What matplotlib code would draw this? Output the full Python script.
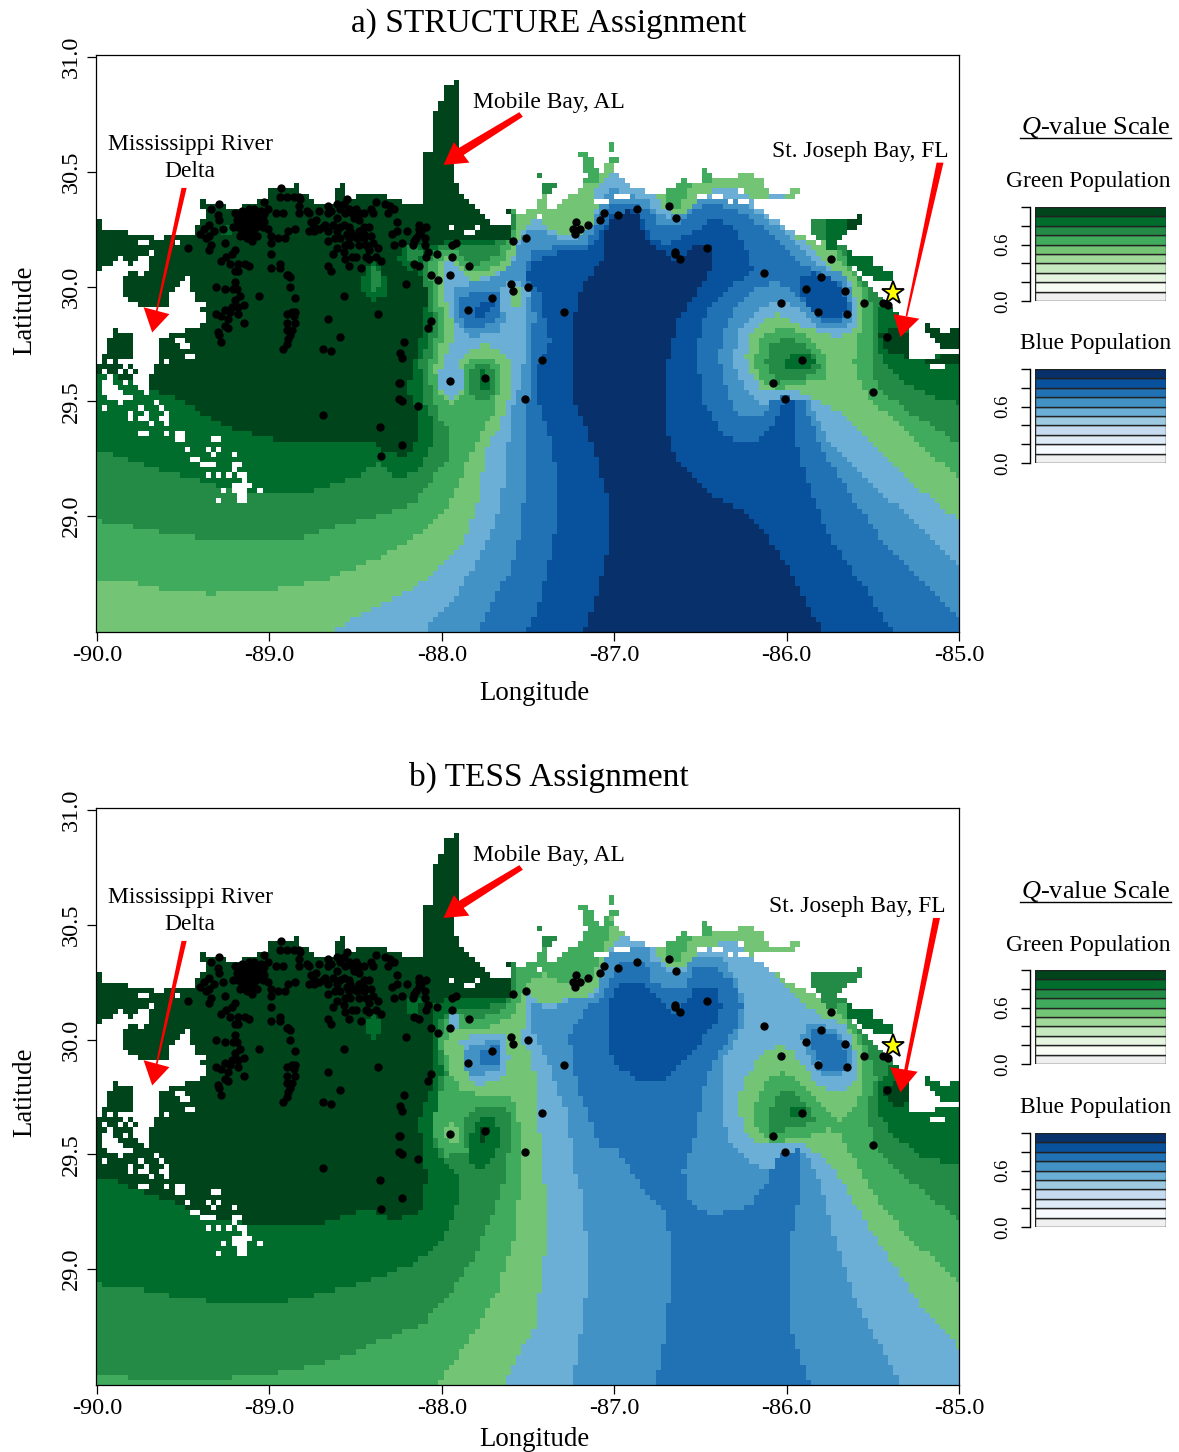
import numpy as np
import matplotlib
matplotlib.use('Agg')
import matplotlib.pyplot as plt
from matplotlib.colors import ListedColormap
from matplotlib.lines import Line2D
from matplotlib.path import Path

plt.rcParams['font.family'] = ['Liberation Serif', 'DejaVu Serif']
plt.rcParams['mathtext.fontset'] = 'custom'
plt.rcParams['mathtext.rm'] = 'Liberation Serif'
plt.rcParams['mathtext.it'] = 'Liberation Serif:italic'

W, H = 1179, 1452

# Q-value classes, dark green through dark blue
class_colors = ['#00441b', '#006d2c', '#238b45', '#41ab5d', '#74c476',
                '#6baed6', '#4292c6', '#2171b5', '#08519c', '#08306b']
G5, G4, G3, G2, G1, B1, B2, B3, B4, B5 = range(10)

legend_edges = [0.0, 0.1, 0.2, 0.3, 0.4, 0.5, 0.6, 0.7, 0.8, 0.9]
green_scale = ['#f0f0f0', '#f7fcf5', '#e5f5e0', '#c7e9c0', '#a1d99b',
               '#74c476', '#41ab5d', '#238b45', '#006d2c', '#00441b']
blue_scale = ['#f0f0f0', '#f7fbff', '#deebf7', '#c6dbef', '#9ecae1',
              '#6baed6', '#4292c6', '#2171b5', '#08519c', '#08306b']

lon_ticks = [-90.0, -89.0, -88.0, -87.0, -86.0, -85.0]
lat_ticks = [29.0, 29.5, 30.0, 30.5, 31.0]
lat_tick_labels = ['29.0', '29.5', '30.0', '30.5', '31.0']

# panel a, class regions as lon/lat outlines
a_g1_west = [(-90.1,28.46),(-88.72,28.46),(-88.49,28.56),(-88.34,28.62),(-88.18,28.68),(-88.03,28.76),(-87.88,28.88),(-87.80,29.04),(-87.74,29.29),(-87.66,29.40),(-87.59,29.55),(-87.60,29.67),(-87.66,29.72),(-87.76,29.75),(-87.85,29.72),(-87.89,29.67),(-87.87,29.57),(-87.89,29.53),(-87.95,29.51),(-88.01,29.55),(-88.01,29.64),(-87.95,29.75),(-87.92,29.81),(-87.97,29.93),(-87.99,29.98),(-87.99,30.04),(-88.00,30.11),(-87.94,30.13),(-87.88,30.06),(-87.83,30.03),(-87.72,30.04),(-87.60,30.10),(-87.56,30.19),(-87.52,30.26),(-87.45,30.29),(-87.37,30.25),(-87.30,30.22),(-87.17,30.24),(-87.13,30.28),(-87.10,30.36),(-87.12,30.42),(-87.04,30.48),(-86.98,30.49),(-86.91,30.45),(-86.88,30.59),(-86.88,31.1),(-90.1,31.1)]
a_g1_north = [(-86.78,30.44),(-86.72,30.34),(-86.62,30.31),(-86.54,30.35),(-86.47,30.39),(-86.43,30.42),(-86.30,30.42),(-86.22,30.39),(-86.10,30.38),(-85.98,30.51),(-86.79,30.51)]
a_g1_east = [(-86.0,31.1),(-86.0,30.30),(-85.96,30.23),(-85.77,30.10),(-85.63,30.03),(-85.60,29.93),(-85.59,29.82),(-85.71,29.78),(-85.85,29.81),(-85.96,29.85),(-86.06,29.88),(-86.15,29.85),(-86.22,29.78),(-86.24,29.69),(-86.20,29.62),(-86.13,29.54),(-86.03,29.54),(-85.92,29.54),(-85.81,29.50),(-85.69,29.45),(-85.55,29.34),(-85.30,29.16),(-84.97,28.96),(-84.9,28.96),(-84.9,31.1)]
a_g2_west = [(-90.1,28.73),(-89.77,28.71),(-89.61,28.68),(-89.34,28.66),(-89.13,28.67),(-88.88,28.69),(-88.65,28.73),(-88.38,28.81),(-88.11,28.93),(-87.95,29.06),(-87.87,29.20),(-87.79,29.34),(-87.69,29.46),(-87.65,29.64),(-87.72,29.69),(-87.82,29.69),(-87.88,29.64),(-87.87,29.54),(-87.94,29.49),(-88.01,29.52),(-88.04,29.64),(-88.01,29.74),(-87.98,29.82),(-88.02,29.95),(-88.03,30.03),(-88.02,30.10),(-87.97,30.14),(-87.91,30.12),(-87.85,30.06),(-87.76,30.06),(-87.65,30.11),(-87.59,30.19),(-87.56,30.25),(-87.57,30.36),(-87.57,31.1),(-90.1,31.1)]
a_g2_ring = [(-86.18,29.69),(-86.14,29.78),(-86.04,29.82),(-85.94,29.81),(-85.85,29.76),(-85.76,29.68),(-85.76,29.61),(-85.85,29.59),(-86.01,29.56),(-86.07,29.56),(-86.14,29.59),(-86.18,29.64)]
a_g2_east = [(-85.81,31.1),(-85.81,30.22),(-85.75,30.17),(-85.62,30.06),(-85.56,29.97),(-85.55,29.87),(-85.58,29.78),(-85.61,29.67),(-85.58,29.59),(-85.51,29.51),(-85.26,29.33),(-84.97,29.15),(-84.9,29.15),(-84.9,31.1)]
a_g3_west = [(-90.1,28.99),(-89.91,28.97),(-89.62,28.93),(-89.34,28.90),(-89.13,28.89),(-88.84,28.90),(-88.65,28.95),(-88.38,29.0),(-88.17,29.05),(-88.09,29.13),(-87.97,29.24),(-87.97,29.39),(-88.01,29.43),(-88.05,29.52),(-88.08,29.64),(-88.05,29.74),(-88.01,29.81),(-88.05,29.95),(-88.07,30.04),(-88.08,30.10),(-87.99,30.16),(-87.89,30.15),(-87.84,30.09),(-87.76,30.11),(-87.66,30.15),(-87.62,30.22),(-87.57,30.26),(-87.60,30.38),(-87.60,31.1),(-90.1,31.1)]
a_g3_east = [(-85.72,31.1),(-85.72,30.20),(-85.64,30.09),(-85.56,30.02),(-85.50,29.91),(-85.49,29.81),(-85.51,29.72),(-85.50,29.61),(-85.43,29.53),(-85.34,29.48),(-84.97,29.30),(-84.9,29.30),(-84.9,31.1)]
a_g3_blob = [(-86.12,29.68),(-86.09,29.74),(-85.99,29.78),(-85.89,29.75),(-85.82,29.69),(-85.81,29.64),(-85.91,29.60),(-86.07,29.58)]
a_g3_west_blob = [(-87.76,29.67),(-87.84,29.63),(-87.83,29.53),(-87.75,29.49),(-87.68,29.55),(-87.68,29.63)]
a_g4_west = [(-90.1,29.30),(-89.92,29.27),(-89.72,29.22),(-89.48,29.17),(-89.23,29.12),(-89.00,29.10),(-88.76,29.11),(-88.49,29.17),(-88.37,29.23),(-88.29,29.18),(-88.21,29.17),(-88.13,29.21),(-88.05,29.32),(-88.06,29.42),(-88.11,29.52),(-88.13,29.67),(-88.08,29.75),(-88.05,29.84),(-88.09,29.97),(-88.10,30.04),(-88.11,30.10),(-88.01,30.18),(-87.85,30.17),(-87.72,30.17),(-87.65,30.25),(-87.60,30.36),(-87.60,31.1),(-90.1,31.1)]
a_g4_east = [(-85.41,30.0),(-85.46,29.90),(-85.46,29.81),(-85.46,29.71),(-85.38,29.62),(-85.25,29.55),(-85.07,29.50),(-84.97,29.49),(-84.9,29.49),(-84.9,30.1),(-85.3,30.1)]
a_g4_blob = [(-86.02,29.68),(-85.96,29.71),(-85.86,29.71),(-85.82,29.67),(-85.88,29.64),(-85.99,29.64)]
a_g4_west_blob = [(-87.76,29.65),(-87.78,29.58),(-87.75,29.53),(-87.72,29.58)]
a_g5_west = [(-90.1,29.645),(-89.94,29.62),(-89.69,29.56),(-89.46,29.48),(-89.34,29.43),(-89.21,29.38),(-89.00,29.34),(-88.88,29.32),(-88.63,29.32),(-88.38,29.32),(-88.34,29.28),(-88.21,29.26),(-88.16,29.29),(-88.14,29.45),(-88.20,29.55),(-88.16,29.64),(-88.15,29.75),(-88.10,29.82),(-88.09,30.00),(-88.13,30.06),(-88.17,30.15),(-88.07,30.17),(-87.97,30.20),(-87.60,30.21),(-87.59,30.36),(-87.59,31.1),(-90.1,31.1)]
a_g5_east = [(-85.46,29.80),(-85.33,29.83),(-85.28,29.77),(-85.30,29.69),(-85.39,29.71),(-85.45,29.75)]
a_b2 = [(-88.14,28.46),(-88.03,28.56),(-87.91,28.66),(-87.80,28.80),(-87.69,28.97),(-87.64,29.14),(-87.62,29.29),(-87.59,29.47),(-87.53,29.59),(-87.52,29.74),(-87.51,29.88),(-87.49,29.98),(-87.55,30.02),(-87.65,30.01),(-87.66,29.94),(-87.63,29.85),(-87.68,29.80),(-87.82,29.78),(-87.92,29.85),(-87.94,29.95),(-87.91,30.00),(-87.80,30.02),(-87.68,30.04),(-87.59,30.10),(-87.56,30.17),(-87.52,30.24),(-87.44,30.26),(-87.36,30.22),(-87.27,30.19),(-87.18,30.22),(-87.13,30.28),(-87.10,30.33),(-87.08,30.39),(-87.01,30.43),(-86.93,30.41),(-86.81,30.38),(-86.75,30.32),(-86.68,30.30),(-86.58,30.32),(-86.52,30.37),(-86.39,30.39),(-86.26,30.37),(-86.13,30.30),(-86.01,30.24),(-85.92,30.17),(-85.80,30.09),(-85.68,30.06),(-85.62,29.98),(-85.61,29.87),(-85.68,29.81),(-85.80,29.82),(-85.89,29.87),(-85.95,29.91),(-86.05,29.94),(-86.15,29.91),(-86.26,29.83),(-86.31,29.69),(-86.28,29.61),(-86.18,29.50),(-86.06,29.46),(-86.02,29.51),(-85.95,29.51),(-85.87,29.50),(-85.76,29.34),(-85.53,29.16),(-85.26,28.97),(-84.97,28.76),(-84.9,28.46)]
a_b3 = [(-87.81,28.46),(-87.72,28.62),(-87.59,28.78),(-87.53,29.00),(-87.51,29.21),(-87.52,29.39),(-87.49,29.52),(-87.48,29.72),(-87.46,29.88),(-87.51,30.03),(-87.51,30.10),(-87.47,30.15),(-87.35,30.17),(-87.26,30.18),(-87.16,30.19),(-87.12,30.25),(-87.08,30.32),(-87.01,30.37),(-86.89,30.37),(-86.80,30.33),(-86.75,30.28),(-86.69,30.26),(-86.60,30.28),(-86.52,30.34),(-86.42,30.36),(-86.29,30.33),(-86.16,30.27),(-86.05,30.19),(-85.94,30.11),(-85.82,30.07),(-85.69,30.01),(-85.64,29.96),(-85.63,29.89),(-85.69,29.85),(-85.80,29.85),(-85.89,29.92),(-85.95,29.98),(-86.05,30.02),(-86.19,30.00),(-86.32,29.88),(-86.38,29.78),(-86.39,29.67),(-86.35,29.56),(-86.30,29.45),(-86.21,29.44),(-86.13,29.45),(-86.07,29.51),(-86.02,29.52),(-85.95,29.51),(-85.91,29.51),(-85.78,29.27),(-85.61,29.07),(-85.43,28.88),(-85.21,28.72),(-84.97,28.52),(-84.9,28.46)]
a_b3_west = [(-87.89,29.95),(-87.79,29.98),(-87.68,29.98),(-87.65,29.94),(-87.68,29.86),(-87.78,29.82),(-87.87,29.83),(-87.89,29.89)]
a_b4 = [(-87.52,28.46),(-87.45,28.60),(-87.38,28.78),(-87.34,28.93),(-87.34,29.21),(-87.38,29.36),(-87.45,29.51),(-87.46,29.62),(-87.37,29.75),(-87.40,29.85),(-87.43,29.98),(-87.51,30.04),(-87.47,30.11),(-87.30,30.15),(-87.13,30.17),(-87.07,30.26),(-87.01,30.31),(-86.89,30.33),(-86.81,30.26),(-86.78,30.20),(-86.69,30.18),(-86.60,30.22),(-86.50,30.26),(-86.42,30.30),(-86.32,30.27),(-86.24,30.18),(-86.20,30.08),(-86.25,30.04),(-86.37,29.97),(-86.48,29.87),(-86.51,29.75),(-86.51,29.64),(-86.49,29.51),(-86.44,29.45),(-86.39,29.37),(-86.29,29.32),(-86.14,29.34),(-86.06,29.43),(-86.01,29.51),(-85.96,29.51),(-85.93,29.27),(-85.85,29.08),(-85.72,28.87),(-85.55,28.69),(-85.35,28.46)]
a_b4_lobe = [(-85.84,30.06),(-85.72,30.03),(-85.66,29.96),(-85.65,29.89),(-85.72,29.86),(-85.84,29.89),(-85.92,29.96),(-85.92,30.03)]
a_b4_west = [(-87.82,29.91),(-87.74,29.94),(-87.69,29.92),(-87.72,29.88),(-87.80,29.87)]
a_b5 = [(-87.19,28.46),(-87.13,28.59),(-87.08,28.73),(-87.04,28.85),(-87.04,29.08),(-87.08,29.19),(-87.13,29.32),(-87.19,29.43),(-87.24,29.51),(-87.24,29.67),(-87.22,29.95),(-87.14,30.04),(-87.07,30.13),(-87.04,30.28),(-86.93,30.33),(-86.84,30.32),(-86.85,30.28),(-86.79,30.19),(-86.64,30.11),(-86.58,30.15),(-86.54,30.18),(-86.43,30.19),(-86.42,30.10),(-86.54,29.95),(-86.62,29.87),(-86.69,29.67),(-86.71,29.52),(-86.68,29.32),(-86.63,29.23),(-86.54,29.17),(-86.42,29.09),(-86.29,29.04),(-86.18,28.98),(-86.10,28.90),(-86.01,28.80),(-85.93,28.68),(-85.76,28.46)]
a_g1_tip = [(-87.61,29.99),(-87.54,29.99),(-87.54,29.91),(-87.60,29.91)]
a_g2_vee = [(-86.72,30.44),(-86.69,30.34),(-86.63,30.33),(-86.58,30.40),(-86.56,30.44)]

# panel b, same idea
b_g1_west = [(-90.1,28.46),(-87.66,28.46),(-87.55,28.63),(-87.45,28.76),(-87.44,28.88),(-87.41,29.00),(-87.39,29.25),(-87.41,29.42),(-87.43,29.50),(-87.44,29.68),(-87.46,29.84),(-87.49,29.95),(-87.53,29.98),(-87.52,30.12),(-87.50,30.20),(-87.41,30.15),(-87.33,30.16),(-87.27,30.19),(-87.16,30.19),(-87.10,30.23),(-87.08,30.30),(-87.04,30.37),(-86.98,30.43),(-86.93,30.45),(-86.89,30.43),(-86.85,30.59),(-86.85,31.1),(-90.1,31.1)]
b_g1_north = [(-86.79,30.42),(-86.72,30.33),(-86.63,30.31),(-86.56,30.33),(-86.50,30.38),(-86.40,30.42),(-86.29,30.42),(-86.17,30.35),(-86.21,30.51),(-86.79,30.51)]
b_g1_east = [(-86.21,31.1),(-86.21,30.51),(-86.17,30.35),(-86.03,30.25),(-85.91,30.16),(-85.80,30.10),(-85.66,30.07),(-85.60,29.95),(-85.58,29.84),(-85.66,29.77),(-85.80,29.79),(-85.89,29.87),(-85.97,29.95),(-86.05,29.98),(-86.15,29.94),(-86.25,29.82),(-86.28,29.71),(-86.25,29.62),(-86.18,29.55),(-86.05,29.55),(-85.95,29.56),(-85.88,29.53),(-85.75,29.46),(-85.64,29.33),(-85.45,29.10),(-85.26,28.88),(-84.97,28.63),(-84.9,28.63),(-84.9,31.1)]
b_g1_spot = [(-88.01,29.59),(-87.94,29.65),(-87.88,29.57),(-87.94,29.54)]
b_g2_west = [(-90.1,28.46),(-88.06,28.46),(-87.88,28.65),(-87.77,28.78),(-87.67,28.91),(-87.63,29.03),(-87.56,29.18),(-87.55,29.43),(-87.55,29.52),(-87.56,29.74),(-87.76,29.75),(-87.89,29.78),(-87.95,29.85),(-87.98,29.94),(-87.98,30.00),(-87.94,30.07),(-87.85,30.04),(-87.70,30.06),(-87.59,30.10),(-87.55,30.17),(-87.50,30.25),(-87.41,30.29),(-87.33,30.26),(-87.26,30.24),(-87.17,30.24),(-87.10,30.31),(-87.05,30.42),(-87.01,30.51),(-87.03,30.56),(-87.0,30.7),(-87.0,31.1),(-90.1,31.1)]
b_g2_east = [(-85.80,31.1),(-85.80,30.29),(-85.74,30.16),(-85.62,30.04),(-85.56,29.95),(-85.56,29.84),(-85.57,29.75),(-85.68,29.64),(-85.75,29.69),(-85.87,29.77),(-85.97,29.84),(-86.03,29.86),(-86.13,29.81),(-86.19,29.71),(-86.18,29.62),(-86.11,29.56),(-86.03,29.56),(-85.91,29.57),(-85.74,29.61),(-85.70,29.59),(-85.64,29.52),(-85.51,29.34),(-85.30,29.14),(-84.97,28.93),(-84.9,28.93),(-84.9,31.1)]
b_g3_west = [(-90.1,28.54),(-89.46,28.51),(-89.01,28.54),(-88.69,28.59),(-88.43,28.66),(-88.24,28.73),(-88.11,28.76),(-87.91,28.94),(-87.80,29.07),(-87.73,29.20),(-87.67,29.30),(-87.62,29.44),(-87.60,29.68),(-87.65,29.71),(-87.75,29.71),(-87.85,29.68),(-87.88,29.59),(-87.85,29.51),(-87.98,29.49),(-88.03,29.55),(-88.05,29.68),(-88.01,29.77),(-87.97,29.85),(-88.01,29.98),(-88.00,30.05),(-87.96,30.12),(-87.89,30.11),(-87.84,30.08),(-87.70,30.11),(-87.60,30.16),(-87.56,30.25),(-87.59,30.36),(-87.59,31.1),(-90.1,31.1)]
b_g3_east = [(-85.69,31.1),(-85.69,30.20),(-85.56,30.01),(-85.48,29.82),(-85.52,29.75),(-85.53,29.68),(-85.49,29.52),(-85.26,29.37),(-84.97,29.20),(-84.9,29.20),(-84.9,31.1)]
b_g3_blob = [(-86.10,29.66),(-86.07,29.75),(-85.99,29.78),(-85.92,29.75),(-85.85,29.69),(-85.84,29.64),(-85.95,29.62),(-86.09,29.58)]
b_g4_west = [(-90.1,28.94),(-89.79,28.92),(-89.68,28.90),(-89.52,28.88),(-89.33,28.86),(-88.90,28.86),(-88.66,28.90),(-88.38,28.96),(-88.18,29.02),(-88.03,29.10),(-87.95,29.20),(-87.89,29.33),(-87.91,29.40),(-87.99,29.47),(-88.04,29.53),(-88.05,29.64),(-88.02,29.75),(-88.00,29.88),(-88.03,29.98),(-88.03,30.05),(-87.97,30.12),(-87.88,30.13),(-87.76,30.14),(-87.63,30.16),(-87.59,30.24),(-87.59,30.36),(-87.59,31.1),(-90.1,31.1)]
b_g4_east = [(-85.37,29.90),(-85.46,29.82),(-85.48,29.75),(-85.47,29.68),(-85.37,29.58),(-85.21,29.49),(-84.97,29.45),(-84.9,29.45),(-84.9,30.2),(-85.2,30.2)]
b_g4_west_blob = [(-87.85,29.53),(-87.82,29.62),(-87.76,29.66),(-87.69,29.65),(-87.66,29.57),(-87.68,29.50),(-87.78,29.43),(-87.82,29.44)]
b_g4_dot = [(-85.97,29.70),(-85.89,29.70),(-85.89,29.66),(-85.97,29.66)]
b_g4_spot = [(-88.20,30.17),(-88.12,30.17),(-88.14,30.12),(-88.19,30.12)]
b_g4_drop = [(-88.40,30.13),(-88.45,30.05),(-88.40,30.00),(-88.34,30.05)]
b_g5_west = [(-90.1,29.41),(-89.92,29.39),(-89.83,29.36),(-89.69,29.33),(-89.48,29.27),(-89.29,29.21),(-89.00,29.19),(-88.69,29.20),(-88.42,29.27),(-88.30,29.21),(-88.13,29.24),(-88.10,29.36),(-88.08,29.42),(-88.11,29.47),(-88.13,29.64),(-88.09,29.74),(-88.05,29.79),(-88.05,30.01),(-88.05,30.14),(-87.99,30.17),(-87.59,30.18),(-87.59,30.36),(-87.59,31.1),(-90.1,31.1)]
b_g5_east = [(-85.43,29.79),(-85.38,29.81),(-85.28,29.81),(-85.30,29.74),(-85.34,29.71),(-85.38,29.72),(-85.43,29.75)]
b_g5_west_blob = [(-87.77,29.62),(-87.73,29.62),(-87.74,29.55),(-87.77,29.55)]
b_b1_west = [(-87.89,30.00),(-87.77,30.03),(-87.65,30.03),(-87.61,29.92),(-87.63,29.84),(-87.79,29.80),(-87.87,29.87)]
b_b1_tongue = [(-87.95,30.12),(-87.91,30.12),(-87.91,30.05),(-87.95,30.05)]
b_b2 = [(-87.27,28.46),(-87.21,28.63),(-87.18,28.79),(-87.14,29.00),(-87.16,29.15),(-87.20,29.37),(-87.23,29.42),(-87.27,29.68),(-87.33,29.79),(-87.41,29.95),(-87.47,30.04),(-87.49,30.13),(-87.47,30.17),(-87.39,30.14),(-87.33,30.14),(-87.26,30.17),(-87.14,30.17),(-87.08,30.23),(-87.07,30.29),(-87.04,30.38),(-86.97,30.40),(-86.89,30.41),(-86.80,30.40),(-86.78,30.35),(-86.69,30.30),(-86.60,30.29),(-86.54,30.37),(-86.39,30.36),(-86.29,30.27),(-86.25,30.16),(-86.25,30.07),(-86.37,29.90),(-86.38,29.77),(-86.35,29.58),(-86.21,29.46),(-86.08,29.43),(-86.04,29.51),(-85.95,29.51),(-85.91,29.52),(-85.81,29.39),(-85.72,29.13),(-85.58,28.83),(-85.45,28.66),(-85.32,28.46)]
b_b2_west = [(-87.87,29.95),(-87.76,29.99),(-87.67,30.00),(-87.65,29.87),(-87.76,29.85),(-87.85,29.85)]
b_b2_lobe = [(-85.88,30.07),(-85.72,30.05),(-85.63,29.98),(-85.62,29.90),(-85.69,29.84),(-85.80,29.85),(-85.89,29.94),(-85.91,30.01)]
b_b3 = [(-86.77,28.46),(-86.70,28.73),(-86.68,28.90),(-86.68,29.14),(-86.70,29.24),(-86.82,29.34),(-86.98,29.52),(-87.08,29.53),(-87.19,29.75),(-87.24,29.88),(-87.26,30.00),(-87.24,30.05),(-87.16,30.14),(-87.08,30.18),(-86.98,30.32),(-86.91,30.34),(-86.81,30.33),(-86.78,30.25),(-86.66,30.22),(-86.58,30.23),(-86.54,30.31),(-86.42,30.31),(-86.32,30.26),(-86.26,30.16),(-86.29,30.05),(-86.39,29.95),(-86.46,29.85),(-86.49,29.74),(-86.53,29.59),(-86.60,29.43),(-86.57,29.31),(-86.46,29.24),(-86.31,29.25),(-86.20,29.29),(-86.10,29.39),(-86.06,29.49),(-86.01,29.51),(-85.93,29.52),(-85.93,29.29),(-85.98,29.11),(-85.99,28.79),(-85.93,28.63),(-85.85,28.46)]
b_b3_west = [(-87.78,29.94),(-87.71,29.98),(-87.65,29.96),(-87.67,29.89),(-87.78,29.89)]
b_b3_lobe = [(-85.85,30.05),(-85.78,30.05),(-85.68,29.98),(-85.64,29.90),(-85.68,29.86),(-85.78,29.87),(-85.85,29.95)]
b_b4 = [(-87.04,30.14),(-86.98,30.24),(-86.91,30.26),(-86.85,30.25),(-86.78,30.20),(-86.72,30.16),(-86.65,30.12),(-86.60,30.14),(-86.54,30.22),(-86.42,30.23),(-86.38,30.16),(-86.41,30.07),(-86.51,29.98),(-86.62,29.89),(-86.73,29.81),(-86.85,29.82),(-86.98,29.88),(-87.04,29.98)]

# small coastal patches that both panels carry
teardrop_g4 = [(-88.40,30.11),(-88.48,30.02),(-88.46,29.99),(-88.39,29.94),(-88.34,29.95),(-88.31,30.02),(-88.36,30.09)]
teardrop_g3 = [(-88.39,30.09),(-88.43,30.02),(-88.39,29.97),(-88.35,30.02),(-88.37,30.09)]
teardrop_g2 = [(-88.38,30.11),(-88.40,30.06),(-88.37,30.06),(-88.37,30.11)]
spot_g4 = [(-88.24,30.16),(-88.25,30.11),(-88.19,30.07),(-88.09,30.12),(-88.10,30.18),(-88.18,30.19)]
spot_g3 = [(-88.20,30.17),(-88.21,30.12),(-88.16,30.11),(-88.10,30.14),(-88.13,30.17)]
speck_g4 = [(-89.29,30.26),(-89.27,30.22),(-89.22,30.22),(-89.23,30.26)]
tendril_g3 = [(-87.46,30.51),(-87.33,30.46),(-87.36,30.40),(-87.43,30.40)]
tip_g2_a = [(-87.23,30.6),(-87.14,30.6),(-87.08,30.51),(-87.10,30.46),(-87.17,30.46)]
tip_g2_b = [(-87.05,30.65),(-86.98,30.65),(-86.97,30.55),(-87.04,30.53)]
tip_g2_c = [(-86.50,30.53),(-86.43,30.53),(-86.43,30.46),(-86.50,30.46)]
tip_g2_d = [(-86.63,30.47),(-86.57,30.47),(-86.57,30.42),(-86.63,30.42)]
islet_g3 = [(-85.86,30.30),(-85.77,30.30),(-85.77,30.21),(-85.86,30.21)]
islet_g4 = [(-85.77,30.32),(-85.55,30.30),(-85.63,30.23),(-85.72,30.16),(-85.77,30.16)]
islet_g5 = [(-85.66,30.29),(-85.55,30.31),(-85.58,30.25),(-85.66,30.23)]
strip_g4 = [(-85.66,30.18),(-85.37,30.07),(-85.37,30.01),(-85.49,30.01),(-85.66,30.11)]
far_east_g5 = [(-85.2,29.85),(-85.08,29.79),(-85.05,29.82),(-84.97,29.81),(-84.97,29.73),(-85.08,29.73),(-85.2,29.81)]
far_row_g5 = [(-85.19,29.69),(-84.98,29.71),(-84.98,29.67),(-85.19,29.67)]
b_islet_g3 = [(-85.86,30.30),(-85.55,30.32),(-85.63,30.23),(-85.72,30.14),(-85.77,30.14),(-85.86,30.21)]

# land, left white
north_land = [(-90.1,30.30),(-89.97,30.30),(-89.97,30.26),(-89.85,30.25),(-89.79,30.22),(-89.62,30.23),(-89.45,30.23),(-89.40,30.28),(-89.33,30.32),(-89.40,30.33),(-89.40,30.39),(-89.37,30.37),(-89.25,30.37),(-89.25,30.34),(-89.21,30.33),(-89.11,30.36),(-89.01,30.39),(-89.03,30.43),(-88.84,30.44),(-88.84,30.41),(-88.76,30.39),(-88.72,30.36),(-88.62,30.37),(-88.60,30.46),(-88.57,30.46),(-88.57,30.39),(-88.38,30.40),(-88.26,30.39),(-88.17,30.35),(-88.11,30.36),(-88.10,30.56),(-88.13,30.59),(-88.06,30.59),(-88.03,30.80),(-88.00,30.81),(-88.00,30.87),(-87.91,30.89),(-87.89,30.84),(-87.91,30.68),(-87.92,30.48),(-87.91,30.41),(-87.83,30.37),(-87.77,30.31),(-87.72,30.30),(-87.73,30.26),(-87.60,30.26),(-87.59,30.29),(-87.62,30.33),(-87.58,30.34),(-87.56,30.31),(-87.52,30.32),(-87.52,30.35),(-87.47,30.34),(-87.42,30.41),(-87.44,30.50),(-87.42,30.46),(-87.34,30.44),(-87.38,30.41),(-87.40,30.34),(-87.34,30.33),(-87.27,30.39),(-87.20,30.41),(-87.16,30.49),(-87.21,30.59),(-87.16,30.59),(-87.10,30.52),(-87.10,30.48),(-87.07,30.50),(-87.01,30.58),(-87.04,30.64),(-87.01,30.64),(-86.98,30.56),(-87.01,30.49),(-86.97,30.49),(-86.89,30.43),(-86.79,30.41),(-86.64,30.42),(-86.60,30.47),(-86.58,30.45),(-86.50,30.45),(-86.49,30.52),(-86.47,30.52),(-86.46,30.50),(-86.42,30.50),(-86.45,30.47),(-86.28,30.47),(-86.27,30.50),(-86.20,30.50),(-86.18,30.46),(-86.13,30.49),(-86.13,30.45),(-86.09,30.41),(-86.04,30.39),(-85.97,30.43),(-85.91,30.41),(-85.92,30.40),(-86.03,30.38),(-86.09,30.39),(-86.20,30.39),(-86.18,30.35),(-86.09,30.30),(-85.99,30.25),(-85.91,30.22),(-85.84,30.19),(-85.75,30.17),(-85.85,30.22),(-85.85,30.29),(-85.77,30.29),(-85.77,30.32),(-85.75,30.29),(-85.65,30.29),(-85.58,30.30),(-85.58,30.32),(-85.55,30.30),(-85.60,30.25),(-85.66,30.23),(-85.72,30.18),(-85.66,30.17),(-85.62,30.14),(-85.52,30.13),(-85.48,30.09),(-85.42,30.07),(-85.38,30.06),(-85.39,30.02),(-85.46,30.02),(-85.56,30.06),(-85.62,30.09),(-85.55,30.03),(-85.46,29.97),(-85.39,29.90),(-85.33,29.85),(-85.28,29.78),(-85.30,29.69),(-85.19,29.69),(-85.05,29.71),(-84.9,29.71),(-84.9,31.1),(-90.1,31.1)]
delta_land = [(-90.1,30.04),(-89.90,30.10),(-89.87,30.14),(-89.79,30.07),(-89.85,30.03),(-89.85,29.97),(-89.79,29.93),(-89.73,29.91),(-89.58,29.91),(-89.56,30.00),(-89.46,30.04),(-89.44,29.95),(-89.36,29.87),(-89.40,29.83),(-89.52,29.80),(-89.65,29.77),(-89.65,29.71),(-89.66,29.63),(-89.78,29.63),(-89.79,29.79),(-89.92,29.82),(-89.95,29.75),(-89.97,29.66),(-90.1,29.66)]
delta_bit = [(-89.77,30.12),(-89.68,30.16),(-89.71,30.08),(-89.75,30.04),(-89.79,30.08)]
lower_delta_a = [(-89.92,29.62),(-89.88,29.56),(-89.79,29.51),(-89.87,29.49),(-89.98,29.53),(-89.97,29.58)]
lower_delta_b = [(-89.79,29.61),(-89.70,29.61),(-89.69,29.51),(-89.73,29.53),(-89.78,29.58)]
chandeleur_end = [(-89.23,29.14),(-89.13,29.14),(-89.12,29.09),(-89.15,29.06),(-89.18,29.06),(-89.20,29.09),(-89.23,29.12)]
east_pond = [(-85.16,29.67),(-85.08,29.67),(-85.08,29.64),(-85.16,29.64)]

land_specks = [(-89.95,29.47),(-89.73,29.35),(-89.72,29.36),(-89.58,29.40),(-89.58,29.36),(-89.53,29.35),(-89.49,29.37),(-89.52,29.33),(-89.49,29.33),(-89.48,29.30),(-89.33,29.33),(-89.30,29.33),(-89.34,29.30),(-89.32,29.27),(-89.28,29.30),(-89.44,29.25),(-89.41,29.25),(-89.39,29.23),(-89.36,29.23),(-89.33,29.23),(-89.36,29.17),(-89.28,29.18),(-89.24,29.19),(-89.20,29.26),(-89.20,29.23),(-89.20,29.20),(-89.17,29.19),(-89.14,29.19),(-89.13,29.16),(-89.13,29.14),(-89.16,29.23),(-89.06,29.12),(-89.28,29.07),(-89.25,29.11),(-89.11,29.14),(-89.79,29.44),(-89.79,29.42),(-89.75,29.42),(-89.71,29.43),(-89.72,29.45),(-89.66,29.49),(-89.63,29.47),(-89.60,29.46),(-89.58,29.43),(-89.61,29.43),(-89.69,29.40),(-89.73,29.47),(-89.84,29.59),(-89.83,29.67),(-89.87,29.67),(-89.81,29.67),(-89.76,29.68),(-89.71,29.64),(-89.67,29.64),(-89.60,29.67),(-89.85,29.62),(-89.80,29.62),(-89.75,29.62),(-89.70,29.62),(-89.92,29.67),(-89.97,29.68),(-89.96,29.73),(-89.94,29.73),(-89.95,29.64),(-89.46,29.70),(-89.49,29.745),(-89.52,29.76),(-89.73,30.20),(-89.70,30.19),(-89.65,30.22),(-89.62,30.22),(-89.52,30.20),(-89.67,30.14),(-87.94,30.25),(-87.85,30.24),(-87.82,30.24),(-87.78,30.25),(-89.39,29.93),(-89.41,29.88),(-89.39,29.85),(-89.37,29.87),(-89.50,29.77),(-89.47,29.74),(-89.45,29.70),(-89.97,29.75),(-89.94,29.71),(-89.92,29.78),(-89.87,29.68),(-89.82,29.65),(-87.10,30.38),(-87.07,30.38),(-87.04,30.38),(-86.99,30.40),(-86.95,30.40),(-86.92,30.40),(-86.50,30.40),(-86.46,30.40),(-86.42,30.40),(-86.39,30.39),(-86.31,30.38),(-86.27,30.37),(-86.23,30.37),(-86.26,30.42),(-87.44,30.30)]

# sampling sites, both panels
sites = [(-87.59,30.20),(-87.51,30.21),(-87.94,30.18),(-87.92,30.19),(-87.94,30.13),(-87.84,30.09),(-87.95,30.05),(-88.02,30.03),(-88.06,30.05),(-88.03,30.14),(-87.60,30.01),(-87.59,29.98),(-87.50,30.00),(-87.71,29.95),(-87.85,29.90),(-87.29,29.89),(-88.06,29.85),(-88.08,29.82),(-87.42,29.68),(-87.95,29.59),(-87.75,29.60),(-87.52,29.51),(-88.14,29.48),(-88.23,29.50),(-88.22,29.76),(-88.23,29.69),(-88.24,29.58),(-88.21,30.01),(-88.16,30.10),(-88.13,30.09),(-87.24,30.25),(-87.22,30.28),(-87.20,30.25),(-87.23,30.23),(-87.15,30.27),(-87.08,30.29),(-87.06,30.32),(-86.98,30.31),(-86.87,30.34),(-86.68,30.35),(-86.64,30.30),(-86.65,30.15),(-86.65,30.14),(-86.62,30.12),(-86.46,30.17),(-86.13,30.06),(-85.80,30.04),(-85.89,29.99),(-85.66,29.98),(-86.03,29.93),(-85.82,29.89),(-85.65,29.88),(-85.74,30.12),(-85.55,29.93),(-85.44,29.93),(-85.41,29.92),(-85.42,29.78),(-85.91,29.68),(-86.08,29.58),(-86.01,29.51),(-85.50,29.54),
         (-89.28,29.76),(-88.92,29.73),(-88.90,29.75),(-88.69,29.73),(-88.64,29.72),(-88.24,29.71),(-88.25,29.58),(-88.25,29.51),(-88.69,29.44),(-88.36,29.39),(-88.23,29.31),(-88.35,29.26),
         (-88.93,30.43),(-88.94,30.39),(-88.90,30.39),(-88.86,30.39),(-88.83,30.39),(-88.82,30.38),(-89.03,30.37),(-89.34,30.34),(-89.29,30.36),(-89.30,30.31),(-89.29,30.29),(-89.35,30.27),(-89.38,30.25),(-89.40,30.23),(-89.32,30.24),(-89.35,30.22),(-89.37,30.21),(-89.27,30.25),(-89.26,30.19),(-89.47,30.17),(-89.34,30.18),(-89.35,30.16),
         (-89.20,30.32),(-89.16,30.33),(-89.12,30.34),(-89.09,30.34),(-89.05,30.33),(-89.01,30.34),(-89.19,30.29),(-89.15,30.30),(-89.11,30.32),(-89.08,30.31),(-89.04,30.29),(-89.18,30.26),(-89.14,30.27),(-89.10,30.28),(-89.07,30.28),(-89.03,30.28),(-89.21,30.26),(-89.16,30.24),(-89.12,30.24),(-89.09,30.25),(-89.17,30.22),(-89.13,30.21),(-89.10,30.20),(-89.07,30.22),(-89.01,30.25),(-88.96,30.32),(-88.92,30.32),(-88.99,30.22),(-88.99,30.19),(-88.95,30.21),(-88.91,30.21),(-88.89,30.24),(-88.85,30.25),
         (-88.83,30.35),(-88.83,30.32),(-88.78,30.33),(-88.77,30.32),(-88.71,30.33),(-88.66,30.35),(-88.61,30.36),(-88.57,30.36),(-88.55,30.38),(-88.66,30.32),(-88.61,30.30),(-88.56,30.32),(-88.52,30.32),(-88.48,30.32),(-88.41,30.34),(-88.40,30.32),(-88.38,30.37),(-88.33,30.36),(-88.30,30.35),(-88.31,30.32),(-88.28,30.34),
         (-88.76,30.28),(-88.73,30.29),(-88.68,30.27),(-88.77,30.24),(-88.74,30.24),(-88.71,30.25),(-88.66,30.24),(-88.66,30.20),(-88.61,30.24),(-88.62,30.21),(-88.61,30.17),(-88.57,30.27),(-88.54,30.26),(-88.51,30.30),(-88.48,30.29),(-88.45,30.26),(-88.42,30.26),(-88.55,30.23),(-88.51,30.22),(-88.45,30.23),(-88.56,30.18),(-88.53,30.18),(-88.48,30.18),(-88.44,30.18),(-88.40,30.19),(-88.37,30.17),(-88.35,30.11),(-88.38,30.13),(-88.42,30.12),(-88.44,30.13),(-88.50,30.13),(-88.52,30.13),(-88.57,30.15),(-88.56,30.12),(-88.54,30.09),(-88.47,30.08),(-88.63,30.14),(-88.66,30.09),(-88.64,30.07),
         (-88.26,30.28),(-88.29,30.23),(-88.26,30.24),(-88.20,30.24),(-88.28,30.18),(-88.23,30.19),(-88.13,30.27),(-88.09,30.26),(-88.12,30.24),(-88.16,30.20),(-88.17,30.18),(-88.13,30.23),(-88.10,30.18),(-88.08,30.15),(-88.09,30.13),(-88.37,29.88),(-88.57,29.96),(-88.66,29.86),(-88.59,29.78),
         (-88.99,30.14),(-88.94,30.10),(-88.99,30.08),(-88.94,30.08),(-88.89,30.05),(-88.88,30.04),(-88.90,30.05),(-88.88,30.00),(-88.85,29.95),(-88.87,29.89),(-88.85,29.89),(-88.90,29.88),(-88.86,29.87),(-88.90,29.84),(-88.85,29.84),(-88.90,29.81),(-88.87,29.81),(-88.88,29.79),(-88.89,29.77),(-89.06,29.96),
         (-89.20,30.16),(-89.22,30.14),(-89.25,30.13),(-89.28,30.11),(-89.23,30.10),(-89.18,30.10),(-89.14,30.10),(-89.12,30.09),(-89.20,30.07),(-89.18,30.07),(-89.31,30.00),(-89.26,29.99),(-89.20,30.02),(-89.21,29.99),(-89.19,29.99),(-89.17,29.96),(-89.20,29.94),(-89.15,29.92),(-89.18,29.91),(-89.22,29.91),(-89.26,29.90),(-89.31,29.88),(-89.23,29.89),(-89.28,29.87),(-89.24,29.86),(-89.18,29.88),(-89.24,29.82),(-89.26,29.83),(-89.30,29.80),(-89.29,29.79),(-89.15,29.84),
         (-89.18,30.31),(-89.14,30.32),(-89.10,30.33),(-89.07,30.32),(-89.03,30.315),(-89.17,30.27),(-89.13,30.29),(-89.10,30.29),(-89.06,30.29),(-89.15,30.25),(-89.11,30.26),(-89.08,30.26),(-89.04,30.26),(-89.14,30.22),(-89.10,30.23),(-88.64,30.33),(-88.59,30.34),(-88.54,30.34),(-88.50,30.34),(-88.45,30.32),(-88.74,30.26),(-88.69,30.26),(-88.63,30.27),(-88.59,30.26),(-88.53,30.24),(-88.48,30.24),(-88.41,30.22),(-88.59,30.21),(-88.54,30.21),(-88.49,30.21),(-88.45,30.21),(-88.42,30.16),(-88.13,30.25),(-88.15,30.21),(-88.10,30.21)]
star_site = (-85.38, 29.97)

# arrows: shaft and head outlines
delta_shaft = [(-89.51,30.43),(-89.48,30.43),(-89.65,29.89),(-89.66,29.89)]
delta_head = [(-89.73,29.91),(-89.58,29.88),(-89.68,29.80)]
mobile_shaft = [(-87.55,30.76),(-87.53,30.74),(-87.88,30.57),(-87.91,30.60)]
mobile_head = [(-87.93,30.63),(-87.84,30.54),(-87.99,30.53)]
joseph_shaft_a = [(-85.13,30.54),(-85.09,30.54),(-85.30,29.87),(-85.31,29.87)]
joseph_head_a = [(-85.38,29.88),(-85.23,29.86),(-85.34,29.78)]
joseph_shaft_b = [(-85.15,30.53),(-85.11,30.53),(-85.30,29.86),(-85.32,29.86)]
joseph_head_b = [(-85.40,29.88),(-85.24,29.86),(-85.34,29.77)]

layers_a = [(G1, a_g1_west), (G1, a_g1_north), (G1, a_g1_east),
            (G2, a_g2_west), (G2, a_g2_ring), (G2, a_g2_east),
            (G3, a_g3_west), (G3, a_g3_east), (G3, a_g3_blob), (G3, a_g3_west_blob),
            (G4, a_g4_west), (G4, a_g4_east), (G4, a_g4_blob), (G4, a_g4_west_blob),
            (G5, a_g5_west), (G5, a_g5_east),
            (G4, teardrop_g4), (G3, teardrop_g3), (G2, teardrop_g2),
            (G4, spot_g4), (G3, spot_g3), (G4, speck_g4),
            (G3, tendril_g3), (G2, tip_g2_a), (G2, tip_g2_b), (G2, tip_g2_c), (G2, tip_g2_d),
            (G3, islet_g3), (G4, islet_g4), (G5, islet_g5), (G4, strip_g4),
            (G5, far_east_g5), (G5, far_row_g5), (G2, a_g2_vee),
            (B2, a_b2), (B3, a_b3), (B3, a_b3_west), (B4, a_b4), (B4, a_b4_lobe),
            (B4, a_b4_west), (B5, a_b5), (G1, a_g1_tip)]

layers_b = [(G1, b_g1_west), (G1, b_g1_north), (G1, b_g1_east),
            (G2, b_g2_west), (G2, b_g2_east),
            (G3, b_g3_west), (G3, b_g3_east), (G3, b_g3_blob),
            (G4, b_g4_west), (G4, b_g4_east), (G4, b_g4_west_blob), (G4, b_g4_dot),
            (G5, b_g5_west), (G5, b_g5_east), (G5, b_g5_west_blob),
            (G4, b_g4_spot), (G4, b_g4_drop), (G1, b_g1_spot),
            (G3, tendril_g3), (G2, tip_g2_a), (G2, tip_g2_b), (G2, tip_g2_c), (G2, tip_g2_d),
            (G3, b_islet_g3), (G4, strip_g4), (G4, far_east_g5), (G4, far_row_g5),
            (G2, a_g2_vee),
            (B2, b_b2), (B3, b_b3), (B4, b_b4),
            (B1, b_b1_west), (B1, b_b1_tongue), (B2, b_b2_west), (B3, b_b3_west),
            (B2, b_b2_lobe), (B3, b_b3_lobe)]

land_parts = [north_land, delta_land, delta_bit, lower_delta_a, lower_delta_b,
              chandeleur_end, east_pond]
kept_islands = [far_east_g5, far_row_g5]

# raster cell size of the interpolated map
lon_edges = np.arange(-90.03, -84.98, 0.03)
lat_edges = np.arange(28.47, 31.03, 0.0225)
lon_mid = (lon_edges[:-1] + lon_edges[1:]) / 2
lat_mid = (lat_edges[:-1] + lat_edges[1:]) / 2
grid_lon, grid_lat = np.meshgrid(lon_mid, lat_mid)
cells = np.column_stack([grid_lon.ravel(), grid_lat.ravel()])


def raster_map(layers):
    grid = np.full(grid_lon.shape, float(B1))
    for level, outline in layers:
        inside = Path(outline).contains_points(cells).reshape(grid.shape)
        grid[inside] = level
    land = np.zeros(grid.shape, dtype=bool)
    for outline in land_parts:
        land |= Path(outline).contains_points(cells).reshape(grid.shape)
    for outline in kept_islands:
        land &= ~Path(outline).contains_points(cells).reshape(grid.shape)
    for lon, lat in land_specks:
        land[np.argmin(abs(lat_mid - lat)), np.argmin(abs(lon_mid - lon))] = True
    grid[land] = np.nan
    return grid


def px_axes(fig, left, top, right, bottom):
    return fig.add_axes([left / W, 1 - bottom / H, (right - left) / W, (bottom - top) / H])


def draw_map(fig, top, bottom, layers, joseph_shaft, joseph_head, joseph_lon, joseph_lat, mobile_lat):
    ax = px_axes(fig, 96, top, 959, bottom)
    cmap = ListedColormap(class_colors)
    cmap.set_bad('white')
    ax.pcolormesh(lon_edges, lat_edges, raster_map(layers), cmap=cmap, vmin=-0.5, vmax=9.5, zorder=1)
    site_arr = np.array(sites)
    ax.plot(site_arr[:, 0], site_arr[:, 1], 'o', color='black', ms=6, mew=0, zorder=3)
    ax.plot(*star_site, marker='*', ms=17, mfc='#ffff00', mec='black', mew=1.3, zorder=5)
    for shape in [delta_shaft, delta_head, mobile_shaft, mobile_head, joseph_shaft, joseph_head]:
        xy = np.array(shape)
        ax.fill(xy[:, 0], xy[:, 1], color='#ff0000', lw=0, zorder=4)
    ax.set_xlim(-90.006, -85.0)
    ax.set_ylim(28.495, 31.009)
    ax.set_xticks(lon_ticks)
    ax.set_xticklabels(['%.1f' % v for v in lon_ticks], fontsize=17.5)
    ax.set_yticks(lat_ticks)
    ax.set_yticklabels(lat_tick_labels, fontsize=17.5, rotation=90, va='center')
    ax.tick_params(axis='both', length=6.5, width=0.9, direction='out')
    ax.tick_params(axis='x', pad=3)
    ax.tick_params(axis='y', pad=3.5)
    for spine in ax.spines.values():
        spine.set_linewidth(0.9)
    ax.text(-89.46, 30.62, 'Mississippi River', fontsize=16.9, ha='center', va='center', zorder=6)
    ax.text(-89.46, 30.50, 'Delta', fontsize=16.9, ha='center', va='center', zorder=6)
    ax.text(-87.82, mobile_lat, 'Mobile Bay, AL', fontsize=16.9, ha='left', va='center', zorder=6)
    ax.text(joseph_lon, joseph_lat, 'St. Joseph Bay, FL', fontsize=16.9, ha='center', va='center', zorder=6)
    return ax


def draw_scale(fig, top, bottom, colors):
    ax = px_axes(fig, 1035, top, 1166, bottom)
    ax.spines['left'].set_position(('outward', 3.6))
    ax.spines['left'].set_linewidth(1.0)
    for side in ['top', 'right', 'bottom']:
        ax.spines[side].set_visible(False)
    ax.bar([0.5] * len(legend_edges), [0.1] * len(legend_edges), width=1.0, bottom=legend_edges,
           color=colors, edgecolor='#222222', linewidth=1.0)
    ax.set_xlim(0, 1)
    ax.set_ylim(0, 1)
    ax.set_xticks([])
    ax.set_yticks([0, 0.2, 0.4, 0.6, 0.8, 1.0])
    ax.set_yticklabels(['0.0', '', '', '0.6', '', ''], rotation=90, va='center', fontsize=13.5)
    ax.tick_params(axis='y', length=6.5, width=1.0, pad=7)


def fig_text(fig, x, y, s, **kw):
    fig.text(x / W, 1 - y / H, s, va='center', **kw)


fig = plt.figure(figsize=(W / 100, H / 100), dpi=100)

draw_map(fig, 55, 632, layers_a, joseph_shaft_a, joseph_head_a, -85.57, 30.59, 30.80)
draw_map(fig, 808, 1385, layers_b, joseph_shaft_b, joseph_head_b, -85.59, 30.58, 30.80)

fig_text(fig, 549, 24, 'a) STRUCTURE Assignment', fontsize=24, ha='center')
fig_text(fig, 549, 777, 'b) TESS Assignment', fontsize=24, ha='center')
fig_text(fig, 534, 694, 'Longitude', fontsize=19.4, ha='center')
fig_text(fig, 534, 1439, 'Longitude', fontsize=19.4, ha='center')
fig_text(fig, 25, 310, 'Latitude', fontsize=19.4, ha='center', rotation=90)
fig_text(fig, 25, 1092, 'Latitude', fontsize=19.4, ha='center', rotation=90)

draw_scale(fig, 207, 301, green_scale)
draw_scale(fig, 369, 463, blue_scale)
draw_scale(fig, 970, 1064, green_scale)
draw_scale(fig, 1133, 1227, blue_scale)

for title_y, green_y, blue_y in [(128, 182, 343), (892, 945, 1107)]:
    fig_text(fig, 1171, title_y, r'$\mathit{Q}$-value Scale', fontsize=19, ha='right')
    fig.add_artist(Line2D([1020 / W, 1171 / W], [1 - (title_y + 10) / H] * 2, color='black', lw=1.0))
    fig_text(fig, 1171, green_y, 'Green Population', fontsize=16.8, ha='right')
    fig_text(fig, 1171, blue_y, 'Blue Population', fontsize=16.8, ha='right')

fig.savefig('out.png', dpi=100)
